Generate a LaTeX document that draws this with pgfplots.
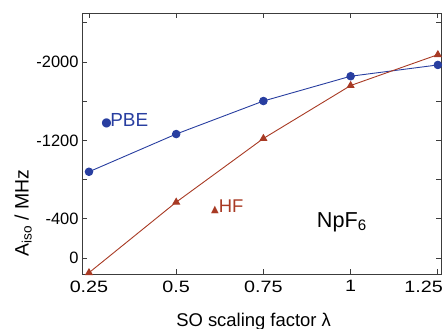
\documentclass[border=0pt]{standalone}
\usepackage{pgfplots}
\pgfplotsset{compat=1.18}
\usepackage{fontspec}
\setmainfont{Liberation Sans}
\newfontfamily\xtfont{Liberation Sans}[FakeStretch=1.2]
\newfontfamily\dejavu{DejaVu Sans}
\definecolor{pbe}{RGB}{40,62,160}
\definecolor{hf}{RGB}{168,58,36}
\definecolor{axgray}{RGB}{60,60,60}
\begin{document}
\begin{tikzpicture}
\begin{axis}[
  scale only axis, width=359bp, height=261bp,
  xmin=0.23, xmax=1.259,
  ymin=-2500, ymax=163,
  y dir=reverse,
  xtick={0.25,0.5,0.75,1,1.25},
  xticklabels={0.25,0.5,0.75,1,\hbox to 0pt{\hss 1.25\hskip-5bp}},
  ytick={-2400,-2000,-1600,-1200,-800,-400,0},
  yticklabels={,-2000,,-1200,,-400,0},
  tick align=inside,
  major tick length=5bp,
  axis line style={axgray, line width=0.8bp},
  tick style={axgray, line width=0.8bp},
  yticklabel style={font=\fontsize{16.5}{16.5}\selectfont},
  xticklabel style={font=\xtfont\fontsize{16.5}{16.5}\selectfont, yshift=-3bp},
  /pgf/number format/assume math mode=true,
  xlabel={SO scaling factor λ},
  ylabel={A\textsubscript{iso} / MHz},
  xlabel style={font=\fontsize{18.5}{18.5}\selectfont, at={(axis description cs:0.478,-0.2)}, anchor=base},
  ylabel style={font=\fontsize{19.5}{19.5}\selectfont, at={(axis description cs:-0.164,0.234)}, anchor=center},
  clip=false,
]
\addplot[pbe, line width=0.9bp, mark=*, mark size=3.8bp, mark options={solid, fill=pbe}]
  coordinates {(0.25,-880) (0.5,-1265) (0.75,-1602) (1.0,-1855) (1.25,-1970)};
\addplot[hf, line width=0.9bp, mark=triangle*, mark size=3.8bp, mark options={solid, fill=hf}]
  coordinates {(0.25,150) (0.5,-570) (0.75,-1220) (1.0,-1760) (1.25,-2075)};
\node[pbe, anchor=base west, inner sep=0pt, font=\fontsize{19}{19}\selectfont]
  at (axis cs:0.285,-1337) {{\dejavu\fontsize{12}{12}\selectfont ●}\kern-1.5bp PBE};
\node[hf, anchor=base west, inner sep=0pt, font=\fontsize{18.5}{18.5}\selectfont]
  at (axis cs:0.5996,-469) {{\dejavu\fontsize{10}{10}\selectfont ▲}HF};
\node[black, anchor=base west, inner sep=0pt, font=\fontsize{21.7}{21.7}\selectfont]
  at (axis cs:0.903,-316) {NpF\textsubscript{6}};
\end{axis}
\pgfresetboundingbox
\path[use as bounding box] ([shift={(-82bp,-55bp)}]current axis.south west) rectangle ([shift={(7bp,13bp)}]current axis.north east);
\end{tikzpicture}
\end{document}
